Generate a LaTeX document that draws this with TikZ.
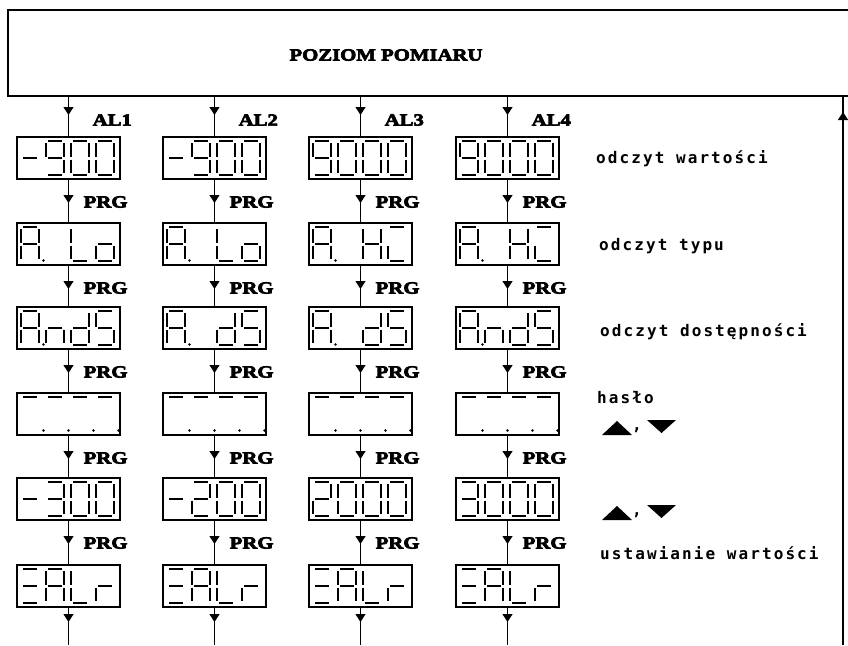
\documentclass[tikz,border=0pt]{standalone}
\usepackage{fontspec}
\usetikzlibrary{arrows.meta,decorations.markings}
\newfontfamily\heavyfont[FakeBold=4,FakeStretch=1.22]{Liberation Serif}
\newfontfamily\lcdfont[LetterSpace=13]{DejaVu Sans Mono}

% seven-segment pieces (local coords, y downwards)
\newcommand\zA{\draw[seg] (2,0)--(16,0);}
\newcommand\zB{\draw[seg] (18,2)--(18,15.5);}
\newcommand\zC{\draw[seg] (18,18.5)--(18,32);}
\newcommand\zD{\draw[seg] (2,34)--(16,34);}
\newcommand\zE{\draw[seg] (0,18.5)--(0,32);}
\newcommand\zF{\draw[seg] (0,2)--(0,15.5);}
\newcommand\zG{\draw[seg] (2,17)--(16,17);}
\newcommand\zP{\fill (22.5,33.5) circle (1.3);}
\newcommand\gZero{\zA\zB\zC\zD\zE\zF}
\newcommand\gTwo{\zA\zB\zG\zE\zD}
\newcommand\gThree{\zA\zB\zG\zC\zD}
\newcommand\gNine{\zA\zB\zC\zD\zF\zG}
\newcommand\gS{\zA\zF\zG\zC\zD}
\newcommand\gMinus{\zG}
\newcommand\gL{\zF\zE\zD}
\newcommand\gLo{\zC\zD\zE\zG}
\newcommand\gn{\zC\zE\zG}
\newcommand\gd{\zB\zC\zD\zE\zG}
\newcommand\gr{\zE\zG}
\newcommand\gH{\zB\zC\zE\zF\zG}
\newcommand\gHi{\zA\zE\zD}
\newcommand\gAA{\zA\zB\zC\zE\zF\zG}
\newcommand\gXi{\zA\zG\zD}
\newcommand\cells[5]{%
  \begin{scope}[shift={(#1.north west)}]
    \begin{scope}[shift={(4,4)}] #2 \end{scope}
    \begin{scope}[shift={(29,4)}] #3 \end{scope}
    \begin{scope}[shift={(54,4)}] #4 \end{scope}
    \begin{scope}[shift={(79,4)}] #5 \end{scope}
  \end{scope}}

\begin{document}
\begin{tikzpicture}[x=1pt,y=-1pt,
  seg/.style={line width=1.8pt, line cap=butt},
  disp/.style={draw, line width=2.8pt, minimum width=103pt, minimum height=42pt,
    inner sep=0pt, outer sep=0pt, anchor=north west},
  lbl/.style={font=\heavyfont\bfseries\fontsize{17}{17}\selectfont, anchor=west, inner sep=0pt},
  desc/.style={font=\lcdfont\bfseries\fontsize{16}{16}\selectfont, anchor=west, inner sep=0pt},
  flow/.style={line width=1.2pt, postaction={decorate},
    decoration={markings, mark=at position #1 with {\arrow{Triangle[width=10pt,length=8pt]}}}},
  tri/.style={fill=black}]
\useasboundingbox (0,0) rectangle (848,645);

% top box
\node[draw, line width=2.4pt, minimum width=860pt, minimum height=86pt,
  inner sep=0pt, outer sep=0pt, anchor=north west] (top) at (8,10) {};
\node[lbl, anchor=center] (title) at (386,55) {POZIOM POMIARU};

% displays
\foreach \c/\x in {1/17,2/163,3/309,4/456}{
  \foreach \r/\y in {1/137,2/223,3/307,4/393,5/478,6/565}{
    \node[disp] (d\r\c) at (\x,\y) {};
  }
}

% display contents
\cells{d11}{\gMinus}{\gNine}{\gZero}{\gZero}
\cells{d12}{\gMinus}{\gNine}{\gZero}{\gZero}
\cells{d13}{\gNine}{\gZero}{\gZero}{\gZero}
\cells{d14}{\gNine}{\gZero}{\gZero}{\gZero}
\cells{d21}{\gAA\zP}{}{\gL}{\gLo}
\cells{d22}{\gAA\zP}{}{\gL}{\gLo}
\cells{d23}{\gAA\zP}{}{\gH}{\gHi}
\cells{d24}{\gAA\zP}{}{\gH}{\gHi}
\cells{d31}{\gAA\zP}{\gn}{\gd}{\gS}
\cells{d32}{\gAA\zP}{}{\gd}{\gS}
\cells{d33}{\gAA\zP}{}{\gd}{\gS}
\cells{d34}{\gAA\zP}{\gn}{\gd}{\gS}
\cells{d41}{\zA\zP}{\zA\zP}{\zA\zP}{\zA\zP}
\cells{d42}{\zA\zP}{\zA\zP}{\zA\zP}{\zA\zP}
\cells{d43}{\zA\zP}{\zA\zP}{\zA\zP}{\zA\zP}
\cells{d44}{\zA\zP}{\zA\zP}{\zA\zP}{\zA\zP}
\cells{d51}{\gMinus}{\gThree}{\gZero}{\gZero}
\cells{d52}{\gMinus}{\gTwo}{\gZero}{\gZero}
\cells{d53}{\gTwo}{\gZero}{\gZero}{\gZero}
\cells{d54}{\gThree}{\gZero}{\gZero}{\gZero}
\cells{d61}{\gXi}{\gAA}{\gL}{\gr}
\cells{d62}{\gXi}{\gAA}{\gL}{\gr}
\cells{d63}{\gXi}{\gAA}{\gL}{\gr}
\cells{d64}{\gXi}{\gAA}{\gL}{\gr}

% connectors
\foreach \c in {1,2,3,4}{
  \draw[flow=19pt] (d1\c.north |- top.south) -- (d1\c.north);
  \node[lbl] (al\c) at ([xshift=24pt,yshift=-120pt]d1\c.north |- 0,0) {AL\c};
  \foreach \r/\s in {1/2,2/3,3/4,4/5,5/6}{
    \draw[flow=24pt] (d\r\c.south) -- (d\s\c.north);
    \node[lbl] (p\r\c) at ([xshift=15pt,yshift=-23pt]d\r\c.south) {PRG};
  }
  \path (d6\c.south) ++(0,38) coordinate (b\c);
  \draw[flow=15pt] (d6\c.south) -- (b\c);
}
\coordinate (rb) at (843,645);
\draw[flow=533pt] (rb) -- (rb |- top.south);

% descriptions
\node[desc] (t1) at (596,159) {odczyt wartości};
\node[desc] (t2) at (599,246) {odczyt typu};
\node[desc] (t3) at (600,332) {odczyt dostępności};
\node[desc] (t4) at (597,398) {hasło};
\node[desc] (t6) at (600,553) {ustawianie wartości};

% up / down keys
\fill[tri] (602,435) -- (632,435) -- (617,421) -- cycle;
\node[desc] (k1) at (632,430) {,};
\fill[tri] (647,420) -- (676,420) -- (661.5,433) -- cycle;
\fill[tri] (602,520) -- (632,520) -- (617,506) -- cycle;
\node[desc] (k2) at (632,515) {,};
\fill[tri] (647,505) -- (676,505) -- (661.5,518) -- cycle;
\end{tikzpicture}
\end{document}
